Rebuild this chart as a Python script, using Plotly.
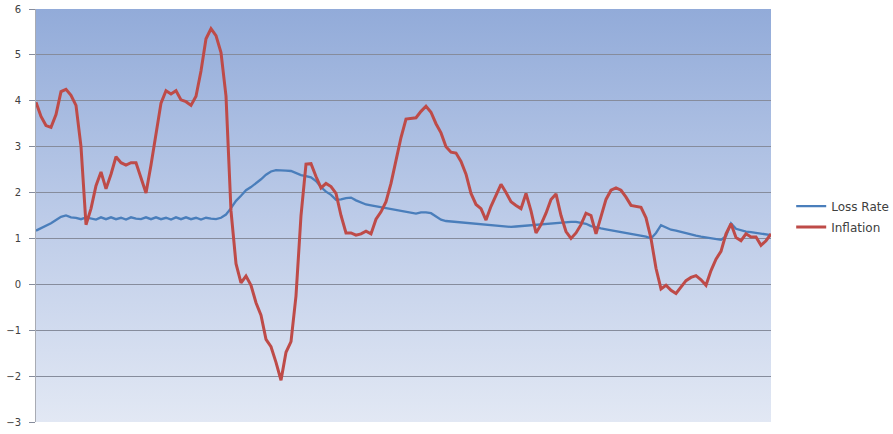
import base64
import plotly.graph_objects as go

# Period index (unlabelled category axis)
periods = list(range(148))

loss_rate = [
    1.17, 1.22, 1.27, 1.33, 1.40, 1.47, 1.50, 1.46, 1.45, 1.42,
    1.46, 1.43, 1.41, 1.46, 1.42, 1.46, 1.42, 1.45, 1.41, 1.46,
    1.43, 1.42, 1.46, 1.42, 1.46, 1.42, 1.45, 1.41, 1.46, 1.42,
    1.46, 1.42, 1.45, 1.41, 1.45, 1.43, 1.42, 1.45, 1.52, 1.66,
    1.82, 1.93, 2.05, 2.12, 2.20, 2.29, 2.39, 2.46, 2.49, 2.49,
    2.48, 2.47, 2.42, 2.38, 2.36, 2.33, 2.25, 2.12, 2.02, 1.95,
    1.84, 1.85, 1.88, 1.89, 1.83, 1.78, 1.74, 1.72, 1.70, 1.68,
    1.66, 1.64, 1.62, 1.61, 1.58, 1.56, 1.54, 1.57, 1.57, 1.55,
    1.47, 1.41, 1.38, 1.37, 1.36, 1.35, 1.34, 1.33, 1.31, 1.30,
    1.29, 1.28, 1.28, 1.27, 1.26, 1.25, 1.26, 1.27, 1.28, 1.29,
    1.30, 1.31, 1.32, 1.33, 1.34, 1.35, 1.36, 1.36, 1.36, 1.34,
    1.32, 1.27, 1.24, 1.22, 1.20, 1.18, 1.16, 1.14, 1.12, 1.10,
    1.08, 1.06, 1.04, 1.00, 1.12, 1.29, 1.24, 1.19, 1.17, 1.14,
    1.11, 1.08, 1.06, 1.04, 1.02, 1.00, 0.99, 0.97, 1.05, 1.33,
    1.21, 1.18, 1.15, 1.14, 1.12, 1.10, 1.08, 1.07,
]

inflation = [
    3.97, 3.66, 3.46, 3.42, 3.70, 4.20, 4.25, 4.12, 3.90, 3.00,
    1.30, 1.65, 2.15, 2.45, 2.08, 2.40, 2.78, 2.65, 2.60, 2.65,
    2.65, 2.30, 1.99, 2.60, 3.30, 3.95, 4.22, 4.15, 4.22, 4.02,
    3.98, 3.90, 4.10, 4.65, 5.35, 5.57, 5.42, 5.05, 4.10, 1.60,
    0.45, 0.03, 0.18, -0.02, -0.40, -0.67, -1.20, -1.36, -1.70, -2.09,
    -1.48, -1.25, -0.25, 1.50, 2.62, 2.63, 2.35, 2.10, 2.20, 2.13,
    1.98, 1.50, 1.12, 1.12, 1.07, 1.10, 1.16, 1.10, 1.42, 1.58,
    1.80, 2.20, 2.70, 3.20, 3.60, 3.62, 3.63, 3.77, 3.88, 3.75,
    3.50, 3.30, 3.00, 2.88, 2.86, 2.68, 2.40, 1.98, 1.74, 1.65,
    1.40, 1.70, 1.95, 2.18, 2.00, 1.80, 1.72, 1.65, 1.98, 1.60,
    1.12, 1.30, 1.55, 1.85, 1.97, 1.50, 1.15, 1.00, 1.12, 1.30,
    1.55, 1.50, 1.10, 1.45, 1.85, 2.05, 2.10, 2.05, 1.90, 1.72,
    1.70, 1.68, 1.45, 1.00, 0.35, -0.10, -0.02, -0.13, -0.20, -0.05,
    0.08, 0.15, 0.19, 0.10, -0.02, 0.30, 0.55, 0.72, 1.10, 1.32,
    1.02, 0.95, 1.10, 1.03, 1.03, 0.85, 0.95, 1.10,
]

y_ticks = [-3, -2, -1, 0, 1, 2, 3, 4, 5, 6]

# Vertical gradient used as the plot-area background
gradient_svg = (
    '<svg xmlns="http://www.w3.org/2000/svg" width="10" height="100" '
    'preserveAspectRatio="none"><defs><linearGradient id="g" x1="0" y1="0" '
    'x2="0" y2="1"><stop offset="0" stop-color="#92abd9"/>'
    '<stop offset="0.5" stop-color="#bccbe8"/>'
    '<stop offset="1" stop-color="#e2e8f4"/></linearGradient></defs>'
    '<rect width="10" height="100" fill="url(#g)"/></svg>'
)
gradient_uri = "data:image/svg+xml;base64," + base64.b64encode(
    gradient_svg.encode()).decode()

fig = go.Figure()
fig.add_trace(go.Scatter(
    x=periods, y=loss_rate, mode="lines", name="Loss Rate",
    line=dict(color="#4a7ebb", width=2.3),
    legendgroup="a",
))
fig.add_trace(go.Scatter(
    x=periods, y=inflation, mode="lines", name="Inflation",
    line=dict(color="#be4b48", width=3),
    legendgroup="b",
))

fig.update_layout(
    width=893, height=434,
    margin=dict(l=36, r=122, t=9, b=12, autoexpand=False),
    paper_bgcolor="white",
    plot_bgcolor="rgba(0,0,0,0)",
    font=dict(family="DejaVu Sans", size=10, color="#404040"),
    images=[dict(
        source=gradient_uri, xref="paper", yref="paper",
        x=0, y=1, sizex=1, sizey=1, xanchor="left", yanchor="top",
        sizing="stretch", layer="below",
    )],
    xaxis=dict(
        range=[0, len(periods) - 1], showticklabels=False, showgrid=False,
        zeroline=False, showline=False, ticks="", automargin=False,
    ),
    yaxis=dict(
        range=[-3, 6], tickvals=y_ticks, showgrid=True,
        gridcolor="#868c9c", gridwidth=1, zeroline=False,
        showline=True, linecolor="#a8abb3", linewidth=1,
        ticks="outside", ticklen=6, tickcolor="#868c9c",
        ticklabelstandoff=6, automargin=False,
        tickfont=dict(size=10, color="#404040"),
    ),
    legend=dict(
        xref="container", yref="container",
        x=0.886, y=0.501, xanchor="left", yanchor="middle",
        font=dict(size=12, color="#404040"),
        bgcolor="rgba(0,0,0,0)", tracegroupgap=2,
    ),
    showlegend=True,
)

fig.write_html("out.html")
